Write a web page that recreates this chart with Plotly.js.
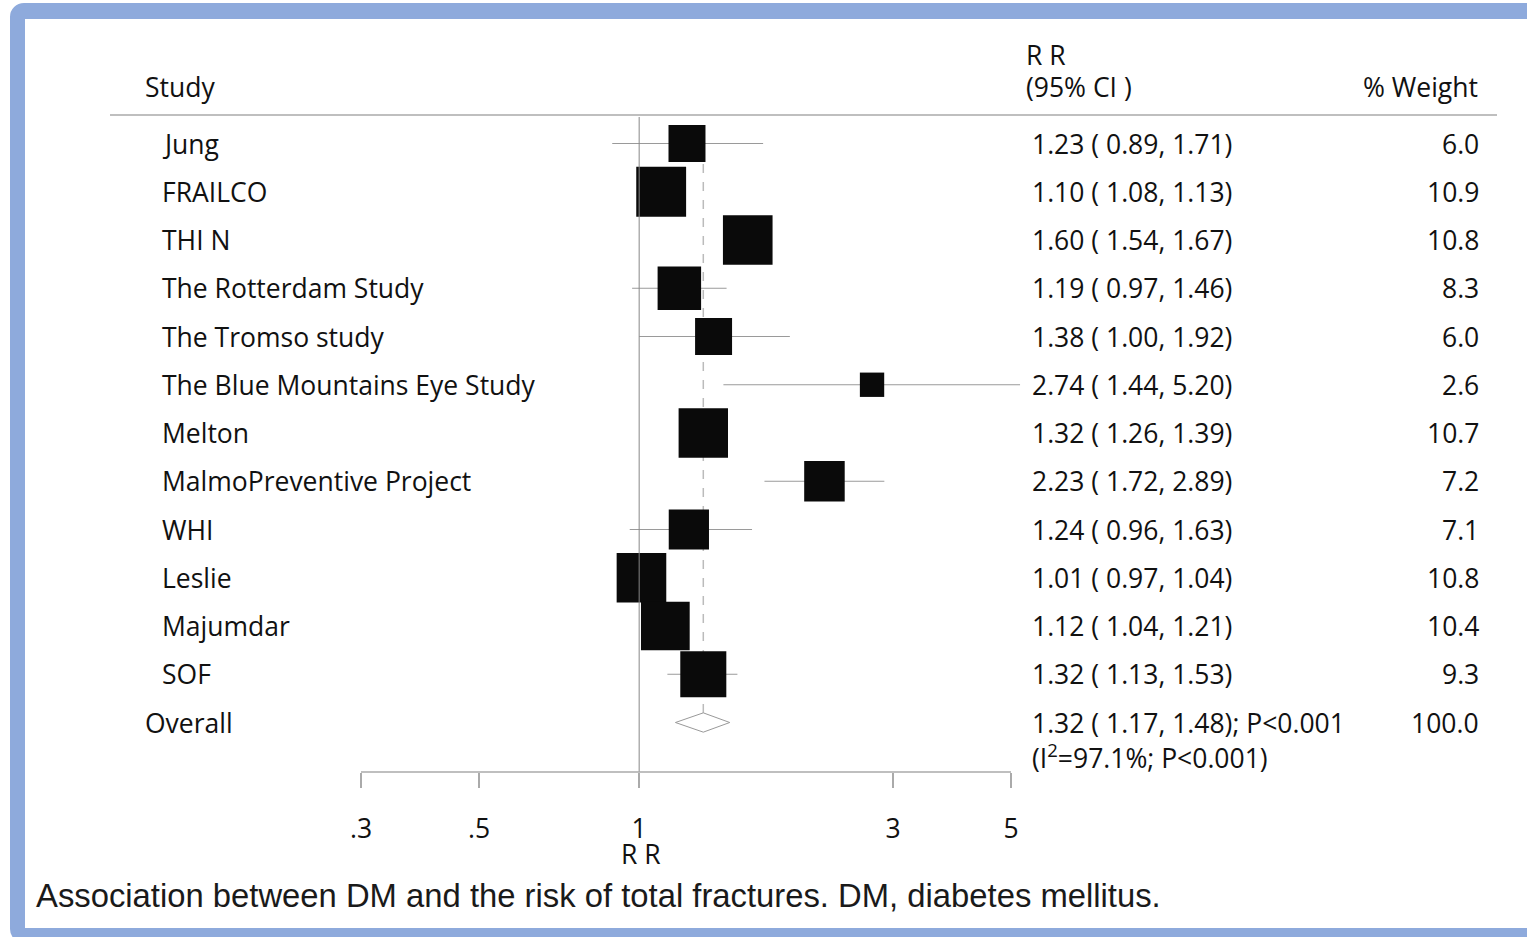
<!DOCTYPE html>
<html><head><meta charset="utf-8">
<script src="https://cdn.plot.ly/plotly-3.0.1.min.js"></script>
<style>
html,body{margin:0;padding:0;background:#fff;overflow:hidden;}
#wrap{position:relative;width:1527px;height:937px;overflow:hidden;}
#frame{position:absolute;left:10px;top:3px;width:1560px;height:940px;box-sizing:border-box;border:15px solid #8EAADC;border-top-width:16px;border-radius:14px;background:#fff;}
#chart{position:absolute;left:0;top:0;width:1527px;height:937px;}
</style></head>
<body><div id="wrap"><div id="frame"></div><div id="chart"></div></div>
<script>
const studies = ["Jung","FRAILCO","THI N","The Rotterdam Study","The Tromso study","The Blue Mountains Eye Study","Melton","MalmoPreventive Project","WHI","Leslie","Majumdar","SOF"];
const rr    = [1.23,1.10,1.60,1.19,1.38,2.74,1.32,2.23,1.24,1.01,1.12,1.32];
const lower = [0.89,1.08,1.54,0.97,1.00,1.44,1.26,1.72,0.96,0.97,1.04,1.13];
const upper = [1.71,1.13,1.67,1.46,1.92,5.20,1.39,2.89,1.63,1.04,1.21,1.53];
const weights = [6.0,10.9,10.8,8.3,6.0,2.6,10.7,7.2,7.1,10.8,10.4,9.3];
const overall = {label:"Overall", rr:1.32, lower:1.17, upper:1.48, weight:100.0, p:"P<0.001", i2:"97.1%", i2p:"P<0.001"};
const tickVals = [0.3,0.5,1,3,5];
const tickText = [".3",".5","1","3","5"];
const caption = "Association between DM and the risk of total fractures. DM, diabetes mellitus.";

const W = 1527, H = 937, plotH = 772;
const px = p => p / W;                 // paper x from pixel
const py = p => 1 - p / plotH;         // paper y from pixel
const rowTop = 143.5, rowStep = 48.25;
const row = p => (p - rowTop) / rowStep;
const yRange = [row(plotH), row(0)];
const scale = 650 / (Math.log10(5) - Math.log10(0.3));
const xRange = [Math.log10(0.3) - 361/scale, Math.log10(0.3) + (W-361)/scale];

const idx = studies.map((_, i) => i);
const overallRow = studies.length;
const fmt = v => v.toFixed(2);
const ciText = (r,l,u) => `${fmt(r)} ( ${fmt(l)}, ${fmt(u)})`;

const TXT = "Open Sans, Noto Sans, sans-serif";
const FS = 26.5;

// CI lines
const ciX = [], ciY = [];
idx.forEach(i => { ciX.push(lower[i], upper[i], null); ciY.push(i, i, null); });

const traces = [
  {x: ciX, y: ciY, mode: 'lines', line: {color: '#9a9a9a', width: 1}, hoverinfo: 'skip', showlegend: false},
  {x: rr, y: idx, mode: 'markers', marker: {symbol: 'square', color: '#0a0a0a', opacity: 1, size: weights.map(w => 15.1*Math.sqrt(w)), line: {width: 0}}, showlegend: false},
  {x: [overall.lower, overall.rr, overall.upper, overall.rr, overall.lower],
   y: [overallRow, overallRow-0.2, overallRow, overallRow+0.2, overallRow],
   mode: 'lines', fill: 'toself', fillcolor: '#ffffff', line: {color: '#999', width: 1}, showlegend: false, hoverinfo: 'skip'}
];

const shapes = [
  {type:'line', xref:'paper', yref:'y', x0:px(110), x1:px(1497), y0:row(115), y1:row(115), line:{color:'#aaa', width:1.5}},
  {type:'line', xref:'x', yref:'y', x0:1, x1:1, y0:row(117), y1:row(plotH), line:{color:'#888', width:1}},
  {type:'line', xref:'x', yref:'y', x0:overall.rr, x1:overall.rr, y0:row(128), y1:overallRow+0.08, line:{color:'#bbb', width:1.5, dash:'dash'}, layer:'below'},
  {type:'line', xref:'x', yref:'paper', x0:tickVals[0], x1:tickVals[tickVals.length-1], y0:0, y1:0, line:{color:'#aaa', width:1.5}}
];

const ann = [];
const A = (text, x, y, xanchor, extra) => ann.push(Object.assign({text, x, y, xref:'paper', yref:'y', xanchor, yanchor:'middle', showarrow:false, font:{family:TXT, size:FS, color:'#111'}}, extra||{}));
A("Study", px(143), row(87), 'left');
A("R R", px(1024), row(55), 'left');
A("(95% CI )", px(1024), row(87), 'left');
A("% Weight", px(1480), row(87), 'right');
idx.forEach(i => {
  A(studies[i], px(160), i, 'left');
  A(ciText(rr[i], lower[i], upper[i]), px(1030), i, 'left');
  A(weights[i].toFixed(1), px(1481), i, 'right');
});
A(overall.label, px(143), overallRow, 'left');
A(ciText(overall.rr, overall.lower, overall.upper) + "; " + overall.p, px(1030), overallRow, 'left');
A(overall.weight.toFixed(1), px(1481), overallRow, 'right');
A("(I<sup>2</sup>=" + overall.i2 + "; " + overall.i2p + ")", px(1030), row(756), 'left');
ann.push({text:"R R", x:px(641), y:py(854), xref:'paper', yref:'paper', xanchor:'center', yanchor:'middle', showarrow:false, font:{family:TXT, size:FS, color:'#111'}});
ann.push({text:caption, x:px(34), y:py(896), xref:'paper', yref:'paper', xanchor:'left', yanchor:'middle', showarrow:false, font:{family:'Liberation Sans, Arial, sans-serif', size:32.8, color:'#1a1a1a'}});

const layout = {
  width: W, height: H,
  margin: {l:0, r:0, t:0, b:H-plotH, pad:0},
  paper_bgcolor: 'rgba(0,0,0,0)', plot_bgcolor: 'rgba(0,0,0,0)',
  showlegend: false,
  xaxis: {type:'log', range: xRange, showgrid:false, zeroline:false, showline:false,
          tickmode:'array', tickvals: tickVals, ticktext: tickText, ticks:'outside', ticklen:15, tickwidth:1.5, tickcolor:'#aaa',
          tickfont:{family:TXT, size:FS, color:'#111'}, ticklabelstandoff: 18, fixedrange:true},
  yaxis: {range: yRange, showgrid:false, zeroline:false, showline:false, showticklabels:false, ticks:'', fixedrange:true},
  shapes, annotations: ann
};
Plotly.newPlot('chart', traces, layout, {displayModeBar:false, staticPlot:true});
</script></body></html>
